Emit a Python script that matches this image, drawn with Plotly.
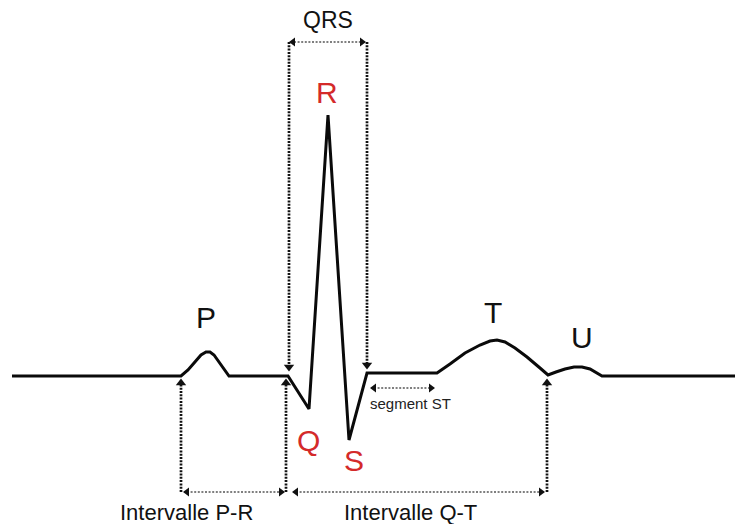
import plotly.graph_objects as go

# ECG waveform (time in arbitrary units, amplitude in arbitrary units, baseline = 0)
t_wave = [12, 181, 188, 195, 201, 206, 210, 214, 220, 229,
          288, 309, 328, 349, 367, 437,
          450, 465, 480, 490, 497, 505, 515, 527, 540, 548,
          556, 565, 574, 582, 590, 597, 602, 735]
amp_wave = [0, 0, 6, 14, 21, 24, 24, 21, 13, 0,
            0, -33, 261, -64, 3, 3,
            12, 23, 31, 35, 36, 34, 28, 19, 8, 1,
            4, 7, 9, 9, 7, 3, 0, 0]

# Key events on the time axis
p_onset = 181
q_onset = 288
j_point = 367
st_end = 437
t_end = 548

# Wave labels
wave_names = ["P", "R", "Q", "S", "T", "U"]
wave_x = [206, 327, 308, 354, 493, 582]
wave_y = [59, 284, -64, -84, 64, 39]
wave_colors = ["#111111", "#d42a2a", "#d42a2a", "#d42a2a", "#111111", "#111111"]

# Levels for the interval brackets
qrs_level = 334
interval_level = -116
st_level = -12

fig = go.Figure()

dot_color = "#111111"

def dotted(xs, ys, width=2.7, color=dot_color, dash="2px,1.3px"):
    fig.add_trace(go.Scatter(x=xs, y=ys, mode="lines",
                             line=dict(color=color, width=width, dash=dash),
                             hoverinfo="skip", showlegend=False))

def hdotted(xs, ys):
    dotted(xs, ys, width=1.6, color="#555555", dash="2px,1.6px")

def head(x, y, symbol, size=9):
    fig.add_trace(go.Scatter(x=[x], y=[y], mode="markers",
                             marker=dict(symbol=symbol, size=size, color="#111111"),
                             hoverinfo="skip", showlegend=False))

# QRS bracket
dotted([q_onset + 1, q_onset + 1], [qrs_level, 9])
head(q_onset + 1, 9, "triangle-down")
dotted([j_point, j_point], [qrs_level, 11])
head(j_point, 11, "triangle-down")
hdotted([q_onset + 6, j_point - 6], [qrs_level, qrs_level])
head(q_onset + 5, qrs_level, "triangle-left", 8)
head(j_point - 5, qrs_level, "triangle-right", 8)

# P-R interval
dotted([p_onset, p_onset], [interval_level, -8])
head(p_onset, -7, "triangle-up")
dotted([q_onset - 2, q_onset - 2], [interval_level, -8])
head(q_onset - 2, -7, "triangle-up")
hdotted([p_onset + 6, q_onset - 7], [interval_level, interval_level])
head(p_onset + 6, interval_level, "triangle-left", 8)
head(q_onset - 7, interval_level, "triangle-right", 8)

# Q-T interval
dotted([t_end - 1, t_end - 1], [interval_level, -8])
head(t_end - 1, -7, "triangle-up")
hdotted([q_onset + 8, t_end - 7], [interval_level, interval_level])
head(q_onset + 8, interval_level, "triangle-left", 8)
head(t_end - 7, interval_level, "triangle-right", 8)

# ST segment
hdotted([j_point + 7, st_end - 6], [st_level, st_level])
head(j_point + 7, st_level, "triangle-left", 8)
head(st_end - 6, st_level, "triangle-right", 8)

# ECG trace
fig.add_trace(go.Scatter(x=t_wave, y=amp_wave, mode="lines",
                         line=dict(color="#0a0a0a", width=3),
                         hoverinfo="skip", showlegend=False))

font_family = "Liberation Sans, Arial, sans-serif"
for name, x, y, c in zip(wave_names, wave_x, wave_y, wave_colors):
    fig.add_annotation(x=x, y=y, text=name, showarrow=False,
                       font=dict(family=font_family, size=30, color=c))

fig.add_annotation(x=(q_onset + j_point) / 2, y=356, text="QRS", showarrow=False,
                   font=dict(family=font_family, size=23, color="#111111"))
fig.add_annotation(x=186, y=-136, text="Intervalle P-R", showarrow=False,
                   font=dict(family=font_family, size=22, color="#111111"))
fig.add_annotation(x=410, y=-136, text="Intervalle Q-T", showarrow=False,
                   font=dict(family=font_family, size=22, color="#111111"))
fig.add_annotation(x=410, y=-27, text="segment ST", showarrow=False,
                   font=dict(family=font_family, size=15, color="#222222"))

fig.update_layout(
    width=735, height=524,
    margin=dict(l=0, r=0, t=0, b=0),
    paper_bgcolor="white", plot_bgcolor="white",
    xaxis=dict(range=[0, 735], visible=False, fixedrange=True),
    yaxis=dict(range=[-148, 376], visible=False, fixedrange=True),
    showlegend=False,
)

fig.write_html("out.html", config={"displayModeBar": False},
               post_script="document.body.style.margin='0';document.body.style.overflow='hidden';")
